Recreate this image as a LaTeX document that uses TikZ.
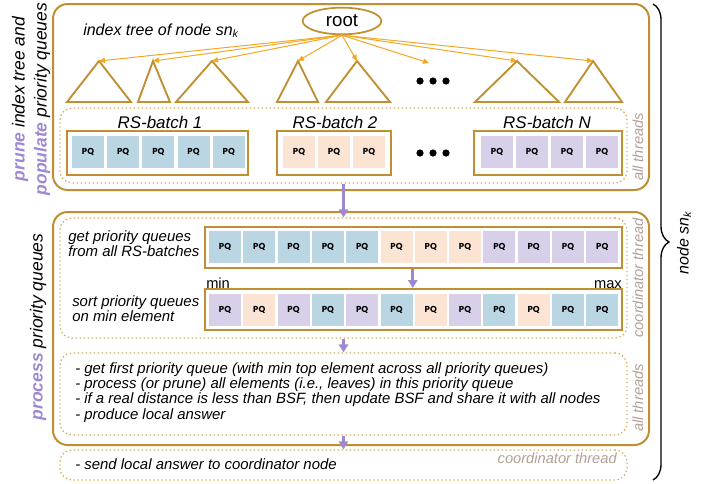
\documentclass[tikz,border=0pt]{standalone}
\usepackage{fontspec}
\setmainfont{Liberation Sans}
\newfontfamily\pqfont{Poppins}
\usetikzlibrary{positioning}
\usetikzlibrary{fit}
\usetikzlibrary{shapes.geometric}
\usetikzlibrary{arrows.meta}
\usetikzlibrary{decorations.pathreplacing}
\definecolor{gold}{RGB}{191,143,48}
\definecolor{dotgold}{RGB}{214,170,90}
\definecolor{arrorange}{RGB}{245,166,35}
\definecolor{pqblue}{RGB}{186,214,227}
\definecolor{pqpeach}{RGB}{252,228,212}
\definecolor{pqpurple}{RGB}{216,208,233}
\definecolor{flowpurple}{RGB}{158,136,210}
\definecolor{threadgray}{RGB}{178,160,152}
\tikzset{
    outerbox/.style = {draw=gold, line width=1.5pt, rounded corners=11pt, inner sep=0},
    threadbox/.style = {draw=dotgold, line width=1pt, dotted, rounded corners=9pt, inner sep=0},
    batchbox/.style = {draw=gold, line width=1.5pt, inner sep=0},
    pqcell/.style = {minimum width=24pt, minimum height=24pt, inner sep=0, font=\pqfont\bfseries\fontsize{6.5}{6.5}\selectfont},
    rootnode/.style = {ellipse, draw=gold, line width=1.3pt, minimum width=59pt, minimum height=20pt, inner sep=0, font=\fontsize{14}{14}\selectfont},
    subtree/.style = {draw=gold, line width=1.4pt, line join=miter},
    treearrow/.style = {draw=arrorange, line width=0.75pt, -{Triangle[length=4.5pt,width=4pt]}},
    flowarrow/.style = {draw=flowpurple, line width=2.2pt, -{Triangle[length=6pt,width=7pt]}},
    batchlabel/.style = {inner sep=0, font=\fontsize{12.7}{12.7}\selectfont\itshape},
    titletext/.style = {inner sep=0, font=\fontsize{12}{12}\selectfont\itshape},
    steptext/.style = {inner sep=0, align=left, font=\fontsize{11.2}{11.4}\selectfont\itshape},
    sidetext/.style = {inner sep=0, align=center, font=\fontsize{13.1}{16.5}\selectfont\itshape},
    threadlabel/.style = {inner sep=0, text=threadgray, font=\fontsize{11}{11}\selectfont\itshape},
    rangelabel/.style = {inner sep=0, font=\fontsize{11}{11}\selectfont},
    bracket/.style = {draw=black, line width=1pt, decorate, decoration={brace, amplitude=12pt}}
}

\begin{document}
\begin{tikzpicture}[x=0.75pt,y=-0.75pt]
\useasboundingbox (0,0) rectangle (710,483);

% prune and populate
\node[outerbox, fit={(53,4) (649,190)}] (prunebox) {};
\node[threadbox, fit={(60,108) (627,183)}] (rsgroup) {};
\node[rootnode] at (342,21) (root) {root};
\node[titletext, anchor=base west] at (83,35) (treetitle) {index tree of node sn\textsubscript{k}};

\foreach \name/\ax/\bl/\br in {t1/99/67/131, t2/153/138/170, t3/212/176/248, t4/298/277/318, t5/357/326/390, t6/517/475/559, t7/593/565/622} {
    \coordinate (\name) at (\ax,61);
    \draw[subtree] (\ax,61) -- (\br,102) -- (\bl,102) -- cycle;
}
\coordinate (moretrees) at (429,63);
\foreach \t in {t1,t2,t3,t4,t5,moretrees,t6,t7}
    \draw[treearrow] (root.south) -- (\t);

\foreach \x in {420,433,446} {
    \fill (\x,81) circle[radius=3.6];
    \fill (\x,153) circle[radius=3.6];
}

\node[batchbox, fit={(67,131) (248,175)}] (batch1) {};
\node[batchbox, fit={(277,131) (391,175)}] (batch2) {};
\node[batchbox, fit={(474,131) (622,175)}] (batchN) {};
\node[batchlabel, anchor=base] at (160,128) (batch1label) {RS-batch 1};
\node[batchlabel, anchor=base] at (335,128) (batch2label) {RS-batch 2};
\node[batchlabel, anchor=base] at (547,128) (batchNlabel) {RS-batch N};
\foreach \i in {0,...,4}
    \node[pqcell, fill=pqblue] at ({88+35.2*\i},152) (b1pq\i) {PQ};
\foreach \i in {0,...,2}
    \node[pqcell, fill=pqpeach] at ({299+35*\i},152) (b2pq\i) {PQ};
\foreach \i in {0,...,3}
    \node[pqcell, fill=pqpurple] at ({497+35*\i},152) (bNpq\i) {PQ};

\node[threadlabel, rotate=90] at (638,147) (threads1) {all threads};

% process
\node[outerbox, fit={(53,212) (649,445)}] (processbox) {};
\node[threadbox, fit={(60,218) (627,338)}] (sortgroup) {};
\node[threadbox, fit={(60,353) (627,435)}] (scangroup) {};
\node[threadbox, fit={(60,450) (627,480)}] (sendgroup) {};

\node[batchbox, fit={(205,227) (622,268)}] (toprow) {};
\node[batchbox, fit={(205,289) (622,330)}] (sortrow) {};
\foreach \c [count=\i] in {pqblue,pqblue,pqblue,pqblue,pqblue,pqpeach,pqpeach,pqpeach,pqpurple,pqpurple,pqpurple,pqpurple}
    \node[pqcell, fill=\c] at ({225+34.3*(\i-1)},247) (top\i) {PQ};
\foreach \c [count=\i] in {pqpurple,pqpeach,pqpurple,pqblue,pqpurple,pqblue,pqpeach,pqpurple,pqblue,pqpeach,pqblue,pqblue}
    \node[pqcell, fill=\c] at ({225+34.3*(\i-1)},309.5) (srt\i) {PQ};
\node[rangelabel, anchor=base west] at (206,288) (minlabel) {min};
\node[rangelabel, anchor=base east] at (622,288) (maxlabel) {max};

\node[steptext, anchor=west] at (68,244) (gettext) {get priority queues\\from all RS-batches};
\node[steptext, anchor=west] at (72,308.5) (sorttext) {sort priority queues\\on min element};
\node[steptext, anchor=west] at (75,392.5) (scantext) {- get first priority queue (with min top element across all priority queues)\\- process (or prune) all elements (i.e., leaves) in this priority queue\\- if a real distance is less than BSF, then update BSF and share it with all nodes\\- produce local answer};
\node[steptext, anchor=base west] at (75,469) (sendtext) {- send local answer to coordinator node};

\node[threadlabel, rotate=90] at (638,278) (threads2) {coordinator thread};
\node[threadlabel, rotate=90] at (638,398) (threads3) {all threads};
\node[threadlabel, anchor=base east] at (617,463) (threads4) {coordinator thread};

\draw[flowarrow] (rsgroup.south) -- (sortgroup.north);
\draw[flowarrow] (toprow.south -| top6.east) -- (sortrow.north -| top6.east);
\draw[flowarrow] (sortgroup.south) -- (scangroup.north);
\draw[flowarrow] (scangroup.south) -- (sendgroup.north);

% side labels
\node[sidetext, rotate=90] at (31,99) (prunelabel) {\textcolor{flowpurple}{\bfseries prune} index tree and\\\textcolor{flowpurple}{\bfseries populate} priority queues};
\node[sidetext, rotate=90] at (38,327) (processlabel) {\textcolor{flowpurple}{\bfseries process} priority queues};

\draw[bracket] (653,4) -- (653,480);
\node[titletext, rotate=90] at (684,243) (nodelabel) {node sn\textsubscript{k}};

\end{tikzpicture}
\end{document}
